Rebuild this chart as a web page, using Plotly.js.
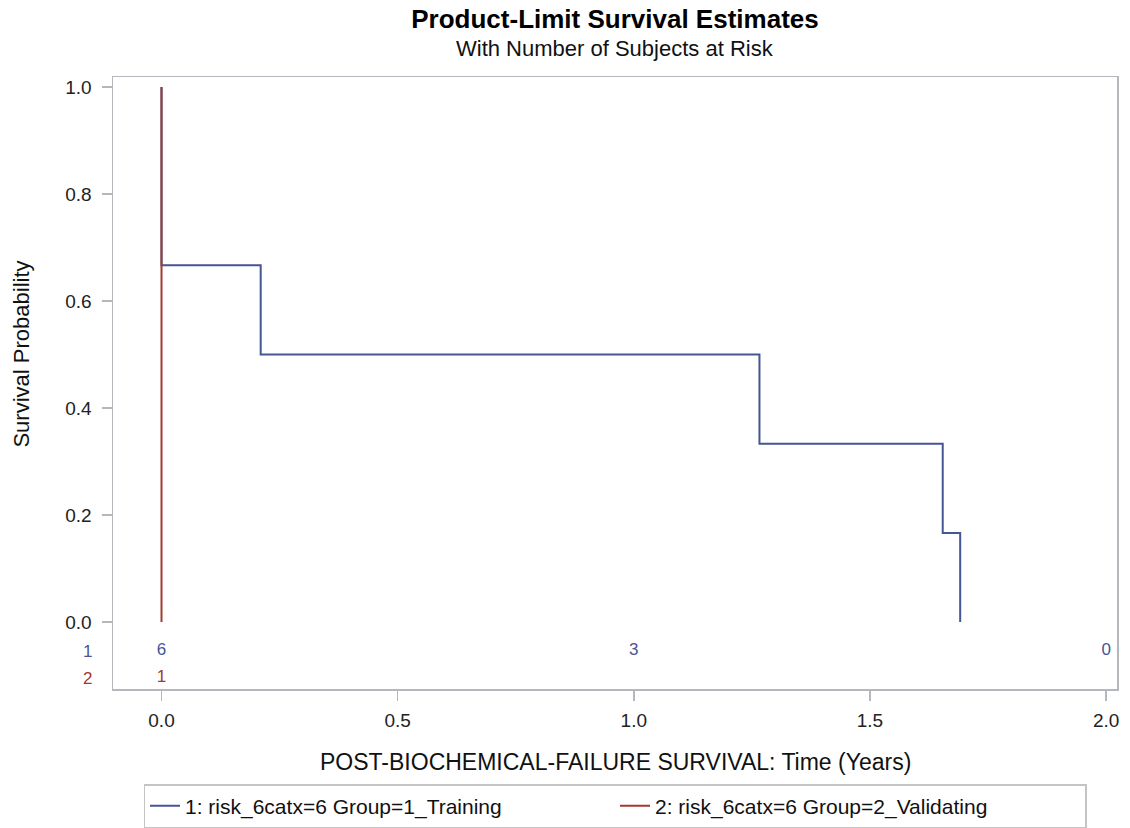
<!DOCTYPE html>
<html>
<head>
<meta charset="utf-8">
<script src="https://cdn.plot.ly/plotly-3.0.1.min.js"></script>
<style>html,body{margin:0;padding:0;background:#fff;}#chart{width:1130px;height:828px;}</style>
</head>
<body>
<div id="chart"></div>
<script>
// Survival step curves (Kaplan-Meier)
const time1 = [0, 0, 0.21, 1.266, 1.654, 1.691];
const surv1 = [1, 0.6667, 0.5, 0.3333, 0.1667, 0];
const time2 = [0, 0];
const surv2 = [1, 0];
const name1 = "1: risk_6catx=6 Group=1_Training";
const name2 = "2: risk_6catx=6 Group=2_Validating";
// Number at risk
const riskTimes1 = [0, 1, 2];
const riskCounts1 = ["6", "3", "0"];
const riskTimes2 = [0];
const riskCounts2 = ["1"];
const riskRowLabels = ["1", "2"];
const xTicks = [0, 0.5, 1.0, 1.5, 2.0];
const xTickText = ["0.0", "0.5", "1.0", "1.5", "2.0"];
const yTicks = [0, 0.2, 0.4, 0.6, 0.8, 1.0];
const yTickText = ["0.0", "0.2", "0.4", "0.6", "0.8", "1.0"];

const BLUE = "#445694", RED = "#A23A2E";
const FONT = "Liberation Sans, Arial, sans-serif";
const row1Y = -0.0542, row2Y = -0.1047;

const traces = [
  {x: time1, y: surv1, type: "scatter", mode: "lines", line: {shape: "hv", color: BLUE, width: 2}, name: name1, hoverinfo: "skip"},
  {x: time2, y: surv2, type: "scatter", mode: "lines", line: {shape: "hv", color: RED, width: 2}, name: name2, hoverinfo: "skip"},
  {x: riskTimes1, y: riskTimes1.map(() => row1Y), text: riskCounts1, type: "scatter", mode: "text",
   textfont: {family: FONT, size: 17, color: BLUE}, textposition: "middle center", showlegend: false, hoverinfo: "skip", cliponaxis: false},
  {x: riskTimes2, y: riskTimes2.map(() => row2Y), text: riskCounts2, type: "scatter", mode: "text",
   textfont: {family: FONT, size: 17, color: RED}, textposition: "middle center", showlegend: false, hoverinfo: "skip", cliponaxis: false}
];

const layout = {
  width: 1130, height: 828,
  margin: {l: 113, r: 13, t: 77, b: 139, autoexpand: false},
  paper_bgcolor: "#fff", plot_bgcolor: "#fff",
  font: {family: FONT, color: "#111"},
  title: {text: "<b>Product-Limit Survival Estimates</b>", font: {family: FONT, size: 26, color: "#000"},
          x: 0.5, xref: "paper", xanchor: "center", y: 1 - 19/828, yref: "container", yanchor: "middle"},
  xaxis: {range: [-0.1027, 2.023], tickvals: xTicks, ticktext: xTickText, showgrid: false, zeroline: false,
          showline: true, mirror: true, linecolor: "#b4b8bc", linewidth: 1.5,
          ticks: "outside", ticklen: 10, tickcolor: "#b4b8bc", tickwidth: 1.5, ticklabelstandoff: 4,
          tickfont: {family: FONT, size: 19, color: "#222"}},
  yaxis: {range: [-0.125, 1.0187], tickvals: yTicks, ticktext: yTickText, showgrid: false, zeroline: false,
          showline: true, mirror: true, linecolor: "#b4b8bc", linewidth: 1.5,
          ticks: "outside", ticklen: 10, tickcolor: "#b4b8bc", tickwidth: 1.5, ticklabelstandoff: 6,
          tickfont: {family: FONT, size: 19, color: "#222"}},
  showlegend: true,
  legend: {orientation: "h", x: 0.5, xref: "paper", xanchor: "center", y: 1 - 806/828, yref: "container", yanchor: "middle",
           bordercolor: "#c4c4c4", borderwidth: 1.5, bgcolor: "#fff",
           font: {family: FONT, size: 21, color: "#111"}, entrywidth: 425, entrywidthmode: "pixels"},
  annotations: [
    {text: "With Number of Subjects at Risk", xref: "paper", x: 0.5, xanchor: "center", yref: "paper", y: 1, yshift: 77 - 48, yanchor: "middle",
     showarrow: false, font: {family: FONT, size: 22, color: "#111"}},
    {text: "Survival Probability", xref: "paper", x: 0, xshift: -(113-22), xanchor: "center", yref: "y", y: 0.5, yanchor: "middle",
     textangle: -90, showarrow: false, font: {family: FONT, size: 22, color: "#111"}},
    {text: "POST-BIOCHEMICAL-FAILURE SURVIVAL: Time (Years)", xref: "paper", x: 0.5, xanchor: "center", yref: "paper", y: 0, yshift: -(762-689), yanchor: "middle",
     showarrow: false, font: {family: FONT, size: 23, color: "#111"}},
    {text: riskRowLabels[0], xref: "paper", x: 0, xshift: -26, xanchor: "center", yref: "y", y: row1Y, yanchor: "middle",
     showarrow: false, font: {family: FONT, size: 17, color: BLUE}},
    {text: riskRowLabels[1], xref: "paper", x: 0, xshift: -26, xanchor: "center", yref: "y", y: row2Y, yanchor: "middle",
     showarrow: false, font: {family: FONT, size: 17, color: RED}}
  ]
};

Plotly.newPlot("chart", traces, layout, {displayModeBar: false, staticPlot: true});
</script>
</body>
</html>
